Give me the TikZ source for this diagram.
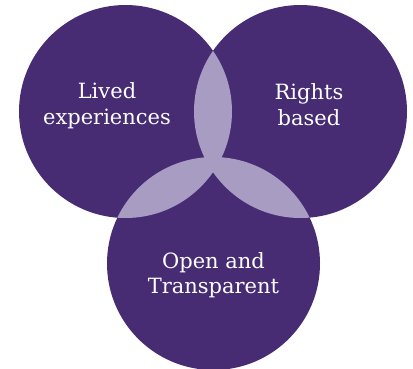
\documentclass[tikz,border=0pt]{standalone}
\usepackage{fontspec}
\setmainfont{DejaVu Serif}
\definecolor{venndark}{HTML}{472C74}
\definecolor{vennlight}{HTML}{A99CC3}
\begin{document}
\begin{tikzpicture}[x=1pt,y=-1pt,
  label/.style={text=white,inner sep=0pt,anchor=base,font=\fontsize{21}{26}\selectfont}]
\useasboundingbox (0,0) rectangle (413,368);
\fill[white] (0,0) rectangle (413,368);
\def\R{106.5}
\coordinate (L) at (125.5,111.5);
\coordinate (Rt) at (300.5,111.5);
\coordinate (B) at (213.5,263.5);
\begin{scope}
\clip (0,0) rectangle (413,368);
\fill[venndark] (L) circle[radius=\R];
\fill[venndark] (Rt) circle[radius=\R];
\fill[venndark] (B) circle[radius=\R];
\begin{scope}
\clip (L) circle[radius=\R];
\fill[vennlight] (Rt) circle[radius=\R];
\fill[vennlight] (B) circle[radius=\R];
\end{scope}
\begin{scope}
\clip (Rt) circle[radius=\R];
\fill[vennlight] (B) circle[radius=\R];
\end{scope}
\end{scope}
\node[label] (l1) at (107,98) {Lived};
\node[label] (l2) at (107,124) {experiences};
\node[label] (r1) at (309,99) {Rights};
\node[label] (r2) at (309,125) {based};
\node[label] (b1) at (213.5,268) {Open and};
\node[label] (b2) at (213.5,293) {Transparent};
\end{tikzpicture}
\end{document}
